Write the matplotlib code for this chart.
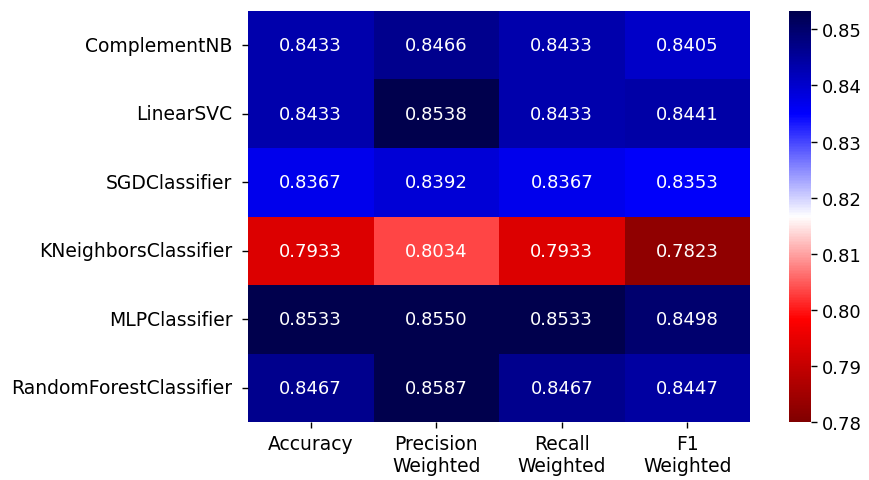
import matplotlib
matplotlib.use("Agg")
import matplotlib.pyplot as plt
import numpy as np
import seaborn as sns

models = ["ComplementNB", "LinearSVC", "SGDClassifier", "KNeighborsClassifier",
          "MLPClassifier", "RandomForestClassifier"]
metrics = ["Accuracy", "Precision\nWeighted", "Recall\nWeighted", "F1\nWeighted"]
accuracy = [0.8433, 0.8433, 0.8367, 0.7933, 0.8533, 0.8467]
precision_w = [0.8466, 0.8538, 0.8392, 0.8034, 0.8550, 0.8587]
recall_w = [0.8433, 0.8433, 0.8367, 0.7933, 0.8533, 0.8467]
f1_w = [0.8405, 0.8441, 0.8353, 0.7823, 0.8498, 0.8447]

data = np.array([accuracy, precision_w, recall_w, f1_w]).T

FS = 13
TFS = 13.5
fig = plt.figure(figsize=(8.69, 4.81), dpi=100)
ax = fig.add_axes([248/869, 1-423.3/481, (750-248)/869, (423.3-11.7)/481])
cax = fig.add_axes([789/869, 1-423.3/481, (811-789)/869, (423.3-11.7)/481])
sns.heatmap(data, ax=ax, cbar_ax=cax, cmap="seismic_r", vmin=0.78, vmax=0.8533,
            annot=True, fmt=".4f", annot_kws={"fontsize": FS},
            xticklabels=metrics, yticklabels=models)
ax.tick_params(length=4.6, width=1.0)
ax.tick_params(axis="y", pad=6.5)
ax.set_yticklabels(models, rotation=0, fontsize=TFS)
ax.set_xticklabels(metrics, rotation=0, fontsize=TFS)
cax.tick_params(labelsize=FS, length=4.6, width=1.0)
cax.set_yticks([0.78, 0.79, 0.80, 0.81, 0.82, 0.83, 0.84, 0.85])
cax.set_yticklabels(["0.78", "0.79", "0.80", "0.81", "0.82", "0.83", "0.84", "0.85"])
fig.savefig("out.png", dpi=100)
